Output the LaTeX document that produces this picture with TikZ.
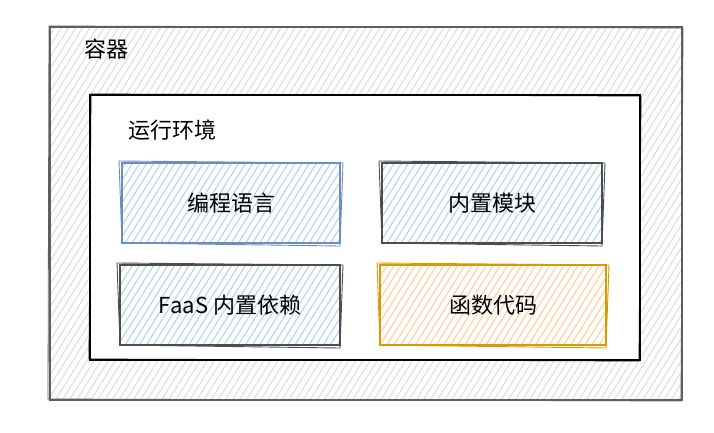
\documentclass[tikz,border=0pt]{standalone}
\usepackage{fontspec}
\setmainfont{Noto Sans CJK SC}
\usetikzlibrary{patterns.meta}
\definecolor{blueB}{HTML}{6C8EBF}
\definecolor{blueF}{HTML}{BCD3F2}
\definecolor{grayB}{HTML}{4D4D4D}
\definecolor{orB}{HTML}{D79B00}
\definecolor{orF}{HTML}{FFD0A0}
\definecolor{outerB}{HTML}{5E5E5E}
\definecolor{outerF}{HTML}{E0E0E0}
\tikzset{
  hatch/.style={pattern={Lines[angle=58,distance=6pt,line width=1.2pt]},pattern color=#1},
  box/.style n args={2}{draw=#1,line width=2pt,hatch=#2,rectangle,inner sep=0pt,
    font=\fontsize{22}{26}\selectfont,text=black},
  lbl/.style={font=\fontsize{22}{26}\selectfont,text=black,anchor=base west,inner sep=0pt},
}
\begin{document}
\begin{tikzpicture}[x=1pt,y=-1pt]
\useasboundingbox (0,0) rectangle (714,432);
\fill[white] (0,0) rectangle (714,432);
% outer container
\draw[outerB,line width=2.6pt,hatch=outerF] (50,27) rectangle (682,400);
\draw[outerB,line width=0.8pt] (49,26) -- (683,28) -- (681,401) -- (48,399) -- cycle;
\node[lbl] (rq) at (84,57) {容器};
% runtime environment
\draw[black,line width=2.2pt,fill=white] (90,95) rectangle (640,360);
\draw[black,line width=0.8pt] (91,94) -- (641,96) -- (639,361) -- (89,359) -- cycle;
\node[lbl] (env) at (128,138) {运行环境};
% inner boxes
\node[box={blueB}{blueF},minimum width=218pt,minimum height=80pt] (lang) at (231,203) {编程语言};
\node[box={grayB}{blueF},minimum width=220pt,minimum height=80pt] (mod) at (492,203) {内置模块};
\node[box={grayB}{blueF},minimum width=220pt,minimum height=80pt] (dep) at (230,305) {FaaS 内置依赖};
\node[box={orB}{orF},minimum width=226pt,minimum height=80pt] (code) at (493,305) {函数代码};
\foreach \n/\c in {lang/blueB,mod/grayB,dep/grayB,code/orB}{
  \draw[\c,line width=0.9pt] ([shift={(-2,-1)}]\n.north west) -- ([shift={(2,1)}]\n.north east)
    -- ([shift={(-1,2)}]\n.south east) -- ([shift={(1,-1)}]\n.south west) -- cycle;
}
\end{tikzpicture}
\end{document}
